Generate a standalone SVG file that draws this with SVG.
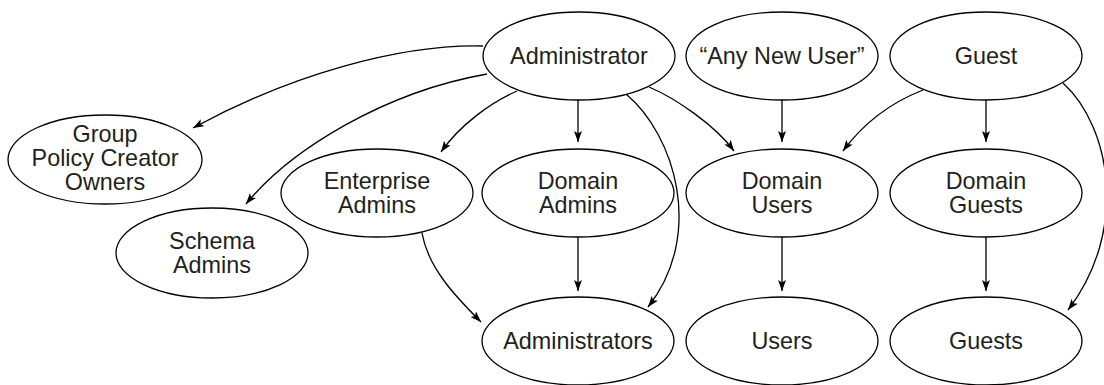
<svg xmlns="http://www.w3.org/2000/svg" width="1104" height="385" viewBox="0 0 1104 385">
<style>
.n ellipse{fill:#fff;stroke:#000;stroke-width:1.3}
.n text{font-family:"Liberation Sans",Arial,sans-serif;font-size:23.4px;fill:#231f20;text-anchor:middle}
.e path{fill:none;stroke:#000;stroke-width:1.3;marker-end:url(#ah)}
</style>
<defs>
<marker id="ah" markerUnits="userSpaceOnUse" markerWidth="12" markerHeight="8" refX="11" refY="4" orient="auto">
<path d="M0,0 L11,4 L0,8 L2.5,4 z" fill="#000"/>
</marker>
</defs>
<rect width="1104" height="385" fill="#fff"/>
<g class="e" id="connectors">
<path d="M483,46 C400,44 290,75 193,128"/>
<path d="M487,74 C385,92 291,149 246,204"/>
<path d="M517,91 C490,103 460,125 441,152"/>
<path d="M578,100 L578,142"/>
<path d="M649,87 C675,98 715,125 734,151"/>
<path d="M626,94 C675,135 705,235 648,307"/>
<path d="M782,100 L782,142"/>
<path d="M923,90 C890,103 862,125 843,151"/>
<path d="M986,100 L986,142"/>
<path d="M1063,83 C1112,128 1128,232 1068,310"/>
<path d="M422,233 C428,268 456,297 481,322"/>
<path d="M578,237 L578,291"/>
<path d="M782,237 L782,291"/>
<path d="M986,237 L986,291"/>
</g>
<g class="n" id="administrator"><ellipse cx="579" cy="56" rx="96" ry="44"/><text x="579" y="64">Administrator</text></g>
<g class="n" id="any-new-user"><ellipse cx="782" cy="56" rx="96" ry="44"/><text x="782" y="64">“Any New User”</text></g>
<g class="n" id="guest"><ellipse cx="986" cy="56" rx="96" ry="44"/><text x="986" y="64">Guest</text></g>
<g class="n" id="group-policy-creator-owners"><ellipse cx="105" cy="159.5" rx="97" ry="44.5"/><text x="105" y="142">Group</text><text x="105" y="166">Policy Creator</text><text x="105" y="190">Owners</text></g>
<g class="n" id="enterprise-admins"><ellipse cx="377" cy="193" rx="96" ry="44"/><text x="377" y="189">Enterprise</text><text x="377" y="212.5">Admins</text></g>
<g class="n" id="domain-admins"><ellipse cx="578" cy="193" rx="96" ry="44"/><text x="578" y="189">Domain</text><text x="578" y="212.5">Admins</text></g>
<g class="n" id="domain-users"><ellipse cx="782" cy="193" rx="96" ry="44"/><text x="782" y="189">Domain</text><text x="782" y="212.5">Users</text></g>
<g class="n" id="domain-guests"><ellipse cx="986" cy="193" rx="96" ry="44"/><text x="986" y="189">Domain</text><text x="986" y="212.5">Guests</text></g>
<g class="n" id="schema-admins"><ellipse cx="212" cy="253" rx="96" ry="45"/><text x="212" y="249">Schema</text><text x="212" y="272.5">Admins</text></g>
<g class="n" id="administrators"><ellipse cx="578" cy="341" rx="96" ry="44"/><text x="578" y="349">Administrators</text></g>
<g class="n" id="users"><ellipse cx="782" cy="341" rx="96" ry="44"/><text x="782" y="349">Users</text></g>
<g class="n" id="guests"><ellipse cx="986" cy="341" rx="96" ry="44"/><text x="986" y="349">Guests</text></g>
</svg>
